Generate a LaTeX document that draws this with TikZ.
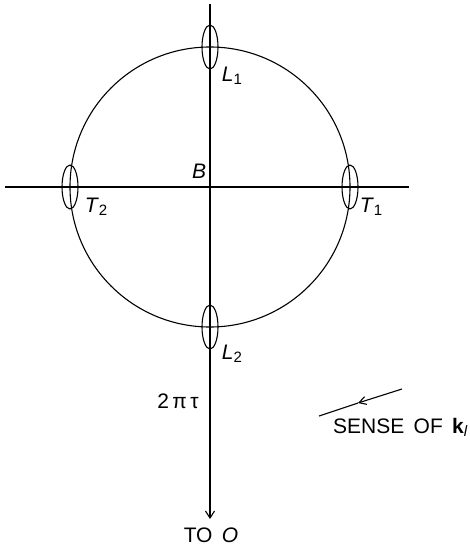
\documentclass[tikz,border=0pt]{standalone}
\usepackage{fontspec}
\setmainfont{Liberation Sans}
\usetikzlibrary{arrows.meta}
\newcommand{\sbs}[1]{\raisebox{-0.3ex}{\fontsize{15}{16}\selectfont #1}}
\tikzset{
  ln/.style={line width=1.1pt},
  lbl/.style={font=\fontsize{21}{24}\selectfont, inner sep=0pt},
}
\begin{document}
\begin{tikzpicture}[x=1pt,y=-1pt]
\useasboundingbox (0,0) rectangle (470,548);
\coordinate (B) at (210,187);
\coordinate (vtop) at (210,4);
\coordinate (vbot) at (210,519);
\coordinate (hl) at (5,187);
\coordinate (hr) at (409,187);
% main circle
\draw[ln] (B) circle[radius=140];
% axes
\draw[ln] (hl) -- (hr);
\draw[ln, -{Straight Barb[length=7pt,width=9pt]}] (vtop) -- (vbot);
% small rings
\draw[ln] (210,47) ellipse[x radius=8, y radius=22];
\draw[ln] (210,327) ellipse[x radius=8, y radius=22];
\draw[ln] (70,187) ellipse[x radius=8, y radius=22];
\draw[ln] (350,187) ellipse[x radius=8, y radius=22];
% labels
\node[lbl] (l1) at (232,76) {\textit{L}\sbs{1}};
\node[lbl] (l2) at (232,354) {\textit{L}\sbs{2}};
\node[lbl] (t2) at (96,207) {\textit{T}\sbs{2}};
\node[lbl] (t1) at (371,207) {\textit{T}\sbs{1}};
\node[lbl] (b) at (199,171) {\textit{B}};
\node[lbl, anchor=base] (tt) at (178,408) {2\,π\,τ};
\node[lbl, anchor=base] (to) at (211,542) {TO\, \textit{O}};
% sense of k
\coordinate (s1) at (319,416);
\coordinate (s2) at (402,389);
\coordinate (sm) at (358,403);
\draw[ln, -{Straight Barb[length=7pt,width=8pt]}] (s2) -- (sm);
\draw[ln] (sm) -- (s1);
\node[lbl, anchor=base west] (sense) at (333,433) {SENSE\, OF\, \textbf{k}\sbs{\textit{l}}};
\end{tikzpicture}
\end{document}
